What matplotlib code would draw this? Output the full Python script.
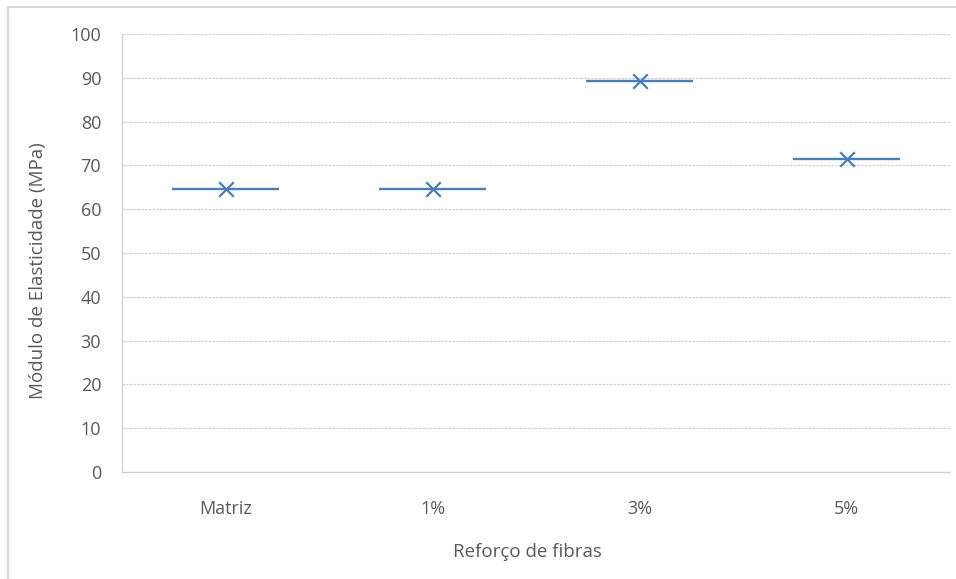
import matplotlib.pyplot as plt
from matplotlib.patches import Rectangle

categories = ["Matriz", "1%", "3%", "5%"]
modulus = [64.6, 64.6, 89.2, 71.4]

plt.rcParams['font.family'] = ['Open Sans', 'DejaVu Sans']
text_color = "#595959"
line_color = "#4a7ebb"

fig = plt.figure(figsize=(9.56, 5.79), dpi=100)
# light frame of the chart area (only left/top visible in the crop)
fig.patches.append(Rectangle((8 / 956, -0.1), 1.2, (579 - 7) / 579 + 0.1,
                             transform=fig.transFigure, fill=False,
                             edgecolor="#d9d9d9", linewidth=1.5))

ax = fig.add_axes([122 / 956, (579 - 472) / 579, (950 - 122) / 956, (472 - 34) / 579])

xs = [i + 0.5 for i in range(len(categories))]
ax.hlines(modulus, [x - 0.26 for x in xs], [x + 0.26 for x in xs],
          color=line_color, linewidth=1.7, zorder=3)
ax.scatter(xs, modulus, marker="x", s=110, color=line_color, linewidths=1.6, zorder=4)

ax.set_xlim(0, len(categories))
ax.set_ylim(0, 100)
ax.set_yticks(range(0, 101, 10))
ax.set_xticks(xs)
ax.set_xticklabels(categories)
ax.grid(axis="y", color="#d0d0d0", linestyle=(0, (2, 1)), linewidth=0.9)
ax.set_axisbelow(True)

for side in ["top", "right"]:
    ax.spines[side].set_visible(False)
for side in ["left", "bottom"]:
    ax.spines[side].set_color("#d0d0d0")
    ax.spines[side].set_linestyle((0, (2, 1)))
    ax.spines[side].set_linewidth(0.9)

ax.tick_params(length=0, labelsize=13, colors=text_color)
ax.tick_params(axis="y", pad=15)
ax.tick_params(axis="x", pad=20)

ax.set_xlabel("Reforço de fibras", fontsize=13.5, color=text_color)
ax.set_ylabel("Módulo de Elasticidade (MPa)", fontsize=13.5, color=text_color)
ax.xaxis.set_label_coords(0.49, -0.162)
ax.yaxis.set_label_coords(-0.09, 0.46)

fig.savefig("out.png", dpi=100)
